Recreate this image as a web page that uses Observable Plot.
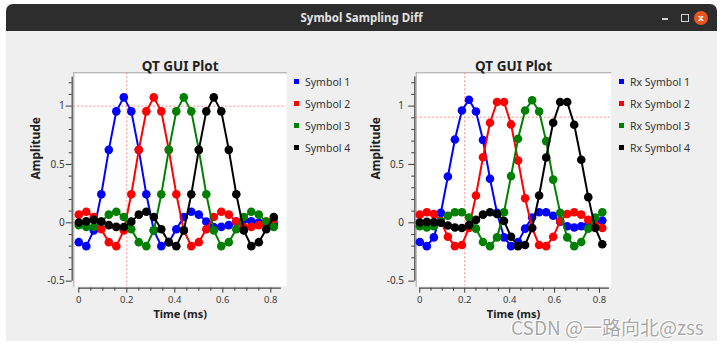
<!DOCTYPE html>
<html>
<head>
<meta charset="utf-8">
<script src="https://cdn.jsdelivr.net/npm/d3@7"></script>
<script src="https://cdn.jsdelivr.net/npm/@observablehq/plot@0.6"></script>
<style>
  html, body { margin: 0; padding: 0; background: #ffffff; width: 722px; height: 345px; overflow: hidden; font-family: "Noto Sans", sans-serif; }
  #page { position: absolute; left: 0; top: 0; width: 722px; height: 345px; }
  #win { position: absolute; left: 6px; top: 4px; width: 711px; height: 337px; background: #efefef; }
  #bar { position: absolute; left: 6px; top: 4px; width: 711px; height: 27px; background: #2d2d2d; border-radius: 7px 7px 0 0; }
  #bartitle { position: absolute; left: 6px; top: 4px; width: 711px; height: 27px; text-align: center; color: #e2e2e2; font: bold 11.5px "Noto Sans", sans-serif; line-height: 27px; }
  .btn-min { position: absolute; left: 662px; top: 18px; width: 6px; height: 1.5px; background: #d0d0d0; }
  .btn-max { position: absolute; left: 681px; top: 14px; width: 6px; height: 6px; border: 1.2px solid #d0d0d0; }
  .btn-close { position: absolute; left: 694px; top: 11px; width: 14px; height: 14px; border-radius: 50%; background: #e9541f; color: #fff; font: bold 9px "DejaVu Sans", sans-serif; text-align: center; line-height: 14px; }
  .leg { position: absolute; font: 10.5px "Noto Sans", sans-serif; color: #333; white-space: nowrap; }
  .leg .sw { position: absolute; width: 5px; height: 5px; }
  #wm { position: absolute; left: 511px; top: 322px; height: 10px; font: 19px "Noto Sans CJK SC", "Noto Sans", sans-serif; line-height: 10px; color: #a8a8a8; white-space: nowrap;
        text-shadow: 0 0 1px #fff, 0 0 1px #fff, 1px 1px 0 #fff, -1px -1px 0 #fff; }
</style>
</head>
<body>
<div id="page">
  <div id="win"></div>
  <div id="bar"></div>
  <div id="bartitle">Symbol Sampling Diff</div>
  <div class="btn-min"></div>
  <div class="btn-max"></div>
  <div class="btn-close">x</div>
</div>
<script>
// ---- data ----
const time = [0, 0.03125, 0.0625, 0.09375, 0.125, 0.15625, 0.1875, 0.21875, 0.25, 0.28125,
  0.3125, 0.34375, 0.375, 0.40625, 0.4375, 0.46875, 0.5, 0.53125, 0.5625, 0.59375,
  0.625, 0.65625, 0.6875, 0.71875, 0.75, 0.78125, 0.8125];

const symbol1 = [-0.166, -0.2, -0.065, 0.244, 0.625, 0.955, 1.075, 0.955, 0.625, 0.244, -0.065, -0.2, -0.166, -0.055, 0.05, 0.095, 0.07, 0.01, -0.036, -0.035, -0.02, 0.01, 0.025, 0.012, 0.003, -0.005, -0.01];
const symbol2 = [0.07, 0.095, 0.05, -0.055, -0.166, -0.2, -0.065, 0.244, 0.625, 0.955, 1.075, 0.955, 0.625, 0.244, -0.065, -0.2, -0.166, -0.055, 0.05, 0.095, 0.07, 0.01, -0.036, -0.035, -0.02, 0.01, 0.025];
const symbol3 = [-0.02, -0.035, -0.036, 0.01, 0.07, 0.095, 0.05, -0.055, -0.166, -0.2, -0.065, 0.244, 0.625, 0.955, 1.075, 0.955, 0.625, 0.244, -0.065, -0.2, -0.166, -0.055, 0.05, 0.095, 0.07, 0.01, -0.036];
const symbol4 = [0.003, 0.012, 0.025, 0.01, -0.02, -0.035, -0.036, 0.01, 0.07, 0.095, 0.05, -0.055, -0.166, -0.2, -0.065, 0.244, 0.625, 0.955, 1.075, 0.955, 0.625, 0.244, -0.065, -0.2, -0.166, -0.055, 0.05];

const rxSymbol1 = [-0.164, -0.2, -0.125, 0.085, 0.397, 0.714, 0.962, 1.055, 0.954, 0.71, 0.378, 0.085, -0.125, -0.2, -0.164, -0.05, 0.045, 0.09, 0.09, 0.06, 0.01, -0.03, -0.04, -0.03, -0.015, 0.005, 0.02];
const rxSymbol2 = [0.07, 0.09, 0.075, 0.015, -0.12, -0.2, -0.19, -0.045, 0.234, 0.562, 0.857, 1.035, 1.035, 0.843, 0.534, 0.211, -0.045, -0.19, -0.2, -0.12, 0.015, 0.075, 0.09, 0.07, 0.025, -0.02, -0.045];
const rxSymbol3 = [-0.03, -0.04, -0.03, 0.01, 0.06, 0.09, 0.09, 0.045, -0.05, -0.164, -0.2, -0.125, 0.091, 0.4, 0.72, 0.962, 1.05, 0.954, 0.7, 0.37, 0.085, -0.125, -0.2, -0.164, -0.05, 0.045, 0.09];
const rxSymbol4 = [0.003, 0.008, 0.006, 0.0, -0.023, -0.04, -0.045, -0.02, 0.025, 0.07, 0.09, 0.075, 0.015, -0.12, -0.2, -0.19, -0.045, 0.234, 0.56, 0.857, 1.035, 1.035, 0.84, 0.54, 0.22, -0.045, -0.184];

const txNames = ["Symbol 1", "Symbol 2", "Symbol 3", "Symbol 4"];
const rxNames = ["Rx Symbol 1", "Rx Symbol 2", "Rx Symbol 3", "Rx Symbol 4"];
const seriesColors = ["#0000ff", "#ff0000", "#008000", "#000000"];

const xTicks = [0, 0.2, 0.4, 0.6, 0.8];
const xMinorTicks = [0.05, 0.1, 0.15, 0.25, 0.3, 0.35, 0.45, 0.5, 0.55, 0.65, 0.7, 0.75];
const yTicks = [-0.5, 0, 0.5, 1];
const yMinorTicks = [-0.4, -0.3, -0.2, -0.1, 0.1, 0.2, 0.3, 0.4, 0.6, 0.7, 0.8, 0.9, 1.1, 1.2];
const yAxisExtent = [-0.5, 1.25];
const xAxisExtent = [0, 0.84375];
const triggerDelay = 0.2;
const txTriggerLevel = 1.0;
const rxTriggerLevel = 0.905;

// ---- drawing ----
function qtPlot(cfg) {
  const L = cfg.left;
  const marks = [
    Plot.frame({fill: "#ffffff", stroke: null}),
    Plot.frame({anchor: "top", stroke: "#a3a3a3"}),
    Plot.frame({anchor: "left", stroke: "#a3a3a3"}),
    Plot.ruleY([cfg.trigLevel], {stroke: "#ff8c8c", strokeWidth: 1, strokeDasharray: "2,2"}),
    Plot.ruleX([triggerDelay], {stroke: "#ff8c8c", strokeWidth: 1, strokeDasharray: "2,2"})
  ];
  cfg.series.forEach((vals, i) => {
    const d = vals.map((v, k) => ({t: time[k], v}));
    marks.push(Plot.line(d, {x: "t", y: "v", stroke: seriesColors[i], strokeWidth: 2}));
    marks.push(Plot.dot(d, {x: "t", y: "v", fill: seriesColors[i], r: 4.3}));
  });
  marks.push(
    Plot.ruleX([0], {y1: yAxisExtent[0], y2: yAxisExtent[1], dx: cfg.backboneX - cfg.x0, stroke: "#444", strokeWidth: 1.2}),
    Plot.axisY(yTicks, {anchor: "left", tickSize: 6, tickPadding: cfg.yPad, dx: cfg.backboneX - cfg.canvasL, tickFormat: d => String(d), label: null, fontSize: 10}),
    Plot.axisY(yMinorTicks, {anchor: "left", tickSize: 3, dx: cfg.backboneX - cfg.canvasL, tickFormat: () => "", label: null}),
    Plot.ruleY([yAxisExtent[0]], {x1: xAxisExtent[0], x2: xAxisExtent[1], dy: 287.7 - 280.65, stroke: "#444", strokeWidth: 1.2}),
    Plot.axisX(xTicks, {anchor: "bottom", tickSize: 5, tickPadding: 3, dy: 2, tickFormat: d => String(d), label: null, fontSize: 9.5}),
    Plot.axisX(xMinorTicks, {anchor: "bottom", tickSize: 3, dy: 2, tickFormat: () => "", label: null}),
    Plot.text(["QT GUI Plot"], {frameAnchor: "top", dy: -11.3, fontSize: 13.5, fontWeight: "bold", fill: "#222"}),
    Plot.text(["Time (ms)"], {frameAnchor: "bottom", dy: 31.5, fontSize: 11, fontWeight: "bold", fill: "#222"}),
    Plot.text(["Amplitude"], {frameAnchor: "left", dx: cfg.ylabelX - cfg.canvasL, rotate: -90, fontSize: 12, fontWeight: "bold", fill: "#222"})
  );
  const svg = Plot.plot({
    width: cfg.width,
    height: 345,
    marginLeft: cfg.canvasL - L,
    marginRight: L + cfg.width - cfg.canvasR,
    marginTop: 72.3,
    marginBottom: 345 - 285.7,
    style: {background: "transparent", overflow: "visible", fontFamily: "Noto Sans, sans-serif", color: "#3a3a3a"},
    x: {domain: [0, 0.8], range: [cfg.x0 - L, cfg.x08 - L], label: null},
    y: {domain: [0, 1], range: [222.3, 105.6], label: null},
    marks
  });
  svg.style.left = L + "px";
  svg.style.position = "absolute";
  svg.style.top = "0px";
  document.getElementById("page").appendChild(svg);

  cfg.names.forEach((name, i) => {
    const item = document.createElement("div");
    item.className = "leg";
    const cy = 81.6 + i * 22.1;
    item.style.left = cfg.legendX + "px";
    item.style.top = (cy - 8) + "px";
    item.style.height = "16px";
    item.style.lineHeight = "16px";
    item.style.paddingLeft = (cfg.legendTextX - cfg.legendX) + "px";
    const sw = document.createElement("div");
    sw.className = "sw";
    sw.style.left = "0px";
    sw.style.top = "5.5px";
    sw.style.background = seriesColors[i];
    item.appendChild(sw);
    item.appendChild(document.createTextNode(name));
    document.getElementById("page").appendChild(item);
  });
}

qtPlot({left: 0, width: 300, canvasL: 73.3, canvasR: 286, x0: 78.3, x08: 270.3,
  backboneX: 71.7, yPad: 1.5, ylabelX: 36, trigLevel: txTriggerLevel,
  series: [symbol1, symbol2, symbol3, symbol4], names: txNames, legendX: 294.3, legendTextX: 305});

qtPlot({left: 340, width: 300, canvasL: 415.7, canvasR: 610.5, x0: 419.3, x08: 599,
  backboneX: 414.3, yPad: 4.8, ylabelX: 376, trigLevel: rxTriggerLevel,
  series: [rxSymbol1, rxSymbol2, rxSymbol3, rxSymbol4], names: rxNames, legendX: 619.3, legendTextX: 630});

const wm = document.createElement("div");
wm.id = "wm";
wm.textContent = "CSDN @一路向北@zss";
document.getElementById("page").appendChild(wm);
</script>
</body>
</html>
